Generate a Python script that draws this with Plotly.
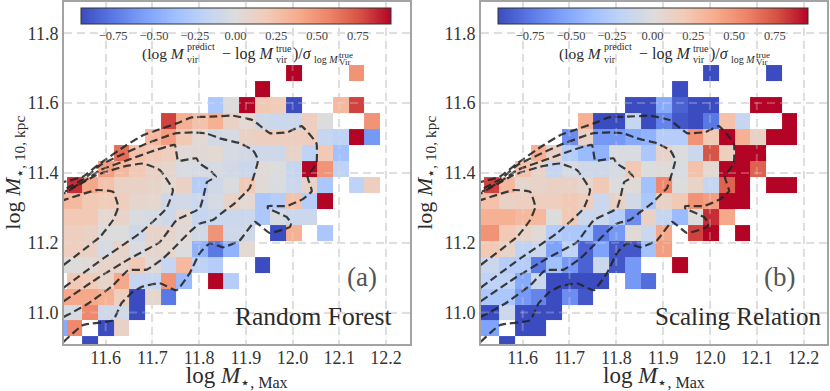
import plotly.graph_objects as go

N = None
x_centers = [11.5, 11.5335, 11.567, 11.6005, 11.634, 11.6675, 11.701, 11.7345, 11.768, 11.8015, 11.835,
             11.8685, 11.902, 11.9355, 11.969, 12.0025, 12.036, 12.0695, 12.103, 12.1365, 12.17]
y_centers = [11.686, 11.640, 11.594, 11.548, 11.502, 11.456, 11.410, 11.364, 11.318, 11.273, 11.227,
             11.181, 11.135, 11.089, 11.045, 11.000, 10.955, 10.909]

rf_rows = [
    [N,N,N,N,N,N,N,N,N,N,N,N,N,N,N,.95,N,N,N,.5],
    [N,N,N,N,N,N,N,N,N,N,N,N,N,.95],
    [N,N,N,N,N,N,N,N,N,N,-.3,0,.95,.2,.18,-.95,N,N,.3,.8],
    [N,N,N,N,N,N,N,.8,.35,.25,.35,.12,.05,-.1,-.12,-.12,.15,0,N,N,.5],
    [N,N,N,N,N,N,.3,.45,.2,.05,-.08,-.05,.12,.15,.15,.15,.15,-.15,-.2,.95,-.6],
    [N,N,N,N,.65,.25,.2,.15,.02,.04,.05,-.05,-.07,-.1,-.1,.1,-.2,.2,-.35],
    [N,N,N,.45,.3,.2,.12,.08,-.03,-.05,-.05,-.08,-.12,.03,0,-.15,.95,.5,-.2],
    [N,.85,.4,.25,.12,.12,.1,.05,.12,-.25,-.1,-.02,.2,.02,-.03,-.12,.1,-.3,N,-.2,.15],
    [.3,.3,.2,.18,.15,.08,.07,-.1,-.08,-.12,-.05,.1,.05,-.3,-.25,.25,-.25,.95],
    [.2,.2,.2,.05,.1,-.03,-.05,-.1,.05,-.15,-.12,-.12,-.12,-.3,-.05,-.12,-.12],
    [.15,.15,.12,0,0,-.1,.1,.08,.03,-.08,.5,-.1,-.1,N,-.95,.35,N,-.3],
    [.15,.15,.12,-.05,.1,-.03,.08,.07,0,-.45,-.75,-.45,.05],
    [0,0,.03,.1,.08,.2,.02,-.15,.3,-.2,-.25,N,N,-.95],
    [N,.2,.18,.1,.4,-.15,-.15,.5,-.4,N,.95,-.25],
    [.4,.4,.4,.35,.15,-.95,.07,-.75],
    [-.05,-.05,.55,-.1,-.08,-.95],
    [-.5,.55,N,-.95,.12],
    [N,N,-.95],
]
sr_rows = [
    [N,N,N,N,N,N,N,N,N,N,N,N,N,N,N,-.95,N,N,N,-.95],
    [N,N,N,N,N,N,N,N,N,N,N,N,N,-.95],
    [N,N,N,N,N,N,N,N,N,N,-.95,-.95,-.5,-.85,-.95,-.95,N,N,.95,.95],
    [N,N,N,N,N,N,N,.35,-.95,-.95,-.15,-.95,-.7,-.9,-.95,-.75,.25,-.15,N,N,.95],
    [N,N,N,N,N,N,-.65,.12,-.6,-.6,-.5,-.45,-.25,-.25,.5,.2,.95,.35,.12,.95,.95],
    [N,N,N,N,.35,.12,-.25,-.4,-.45,-.03,-.03,-.3,.1,0,-.12,.75,.15,.95,.95],
    [N,N,N,.25,.1,-.15,-.05,-.1,-.1,-.05,.2,0,.02,-.03,.25,.05,.95,.95,.7],
    [N,.8,.3,.08,.1,.12,.12,.07,.2,0,.02,-.35,.55,0,.1,-.15,.7,.95,N,.95,.95],
    [.25,.25,.12,.15,.15,.15,.2,.15,-.12,.12,-.08,-.3,.12,.2,.5,.45,.95,.95],
    [.35,.35,.35,.3,.3,0,.2,-.12,-.12,-.25,-.65,.12,-.15,-.4,0,.85,.4],
    [.5,.5,.2,.1,.03,-.25,-.3,-.3,-.75,-.6,.03,-.12,.4,N,.8,.95,N,.95],
    [.2,.2,.1,-.2,-.12,-.55,-.2,-.85,-.55,-.9,-.9,-.35,.45],
    [-.12,-.12,-.25,-.25,-.75,-.35,-.6,-.85,-.12,-.9,-.6,N,N,.95],
    [-.2,-.2,-.2,-.5,-.12,-.95,-.95,-.95,-.95,N,-.6,-.8],
    [-.3,-.3,-.3,-.6,-.7,-.95,-.65,-.9],
    [-.95,-.95,-.12,-.95,-.95,-.95],
    [-.55,-.55,N,-.95,-.95],
    [N,N,-.95],
]

contour_1_x = [11.51,11.551,11.616,11.634,11.658,11.680,11.716,11.752,11.780,11.801,11.823,11.851,11.887,11.919,11.951,11.994,11.997,11.987,11.947,11.947,11.987,12.022,12.041,12.032,12.051,12.051,12.019,11.990,11.951,11.915,11.872,11.823,11.784,11.752,11.680,11.645,11.588,11.551,11.51]
contour_1_y = [10.916,10.964,10.978,11.027,11.059,11.075,11.084,11.064,11.113,11.170,11.199,11.187,11.207,11.260,11.228,11.245,11.256,11.274,11.299,11.305,11.305,11.325,11.348,11.389,11.428,11.485,11.534,11.517,11.514,11.551,11.564,11.561,11.559,11.542,11.508,11.480,11.427,11.389,11.374]
contour_2_x = [11.51,11.563,11.616,11.648,11.688,11.723,11.752,11.780,11.801,11.829,11.851,11.876,11.898,11.908,11.926,11.915,11.887,11.844,11.816,11.787,11.748,11.680,11.588,11.556,11.517,11.51]
contour_2_y = [10.987,11.026,11.078,11.121,11.123,11.155,11.193,11.231,11.255,11.265,11.288,11.313,11.342,11.356,11.437,11.465,11.485,11.499,11.513,11.516,11.513,11.480,11.422,11.385,11.356,11.351]
contour_3_x = [11.51,11.581,11.652,11.716,11.752,11.801,11.809,11.817,11.836,11.823,11.801,11.794,11.755,11.748,11.695,11.652,11.588,11.556,11.513]
contour_3_y = [11.032,11.097,11.155,11.202,11.265,11.298,11.331,11.374,11.389,11.408,11.427,11.442,11.435,11.480,11.460,11.439,11.408,11.378,11.346]
contour_4_x = [11.51,11.595,11.673,11.730,11.744,11.716,11.680,11.638,11.581,11.51]
contour_4_y = [11.071,11.155,11.227,11.298,11.351,11.408,11.427,11.418,11.394,11.341]
contour_5_x = [11.51,11.588,11.616,11.627,11.616,11.581,11.51]
contour_5_y = [11.136,11.217,11.265,11.303,11.346,11.351,11.322]
contours = [(contour_1_x, contour_1_y), (contour_2_x, contour_2_y), (contour_3_x, contour_3_y),
            (contour_4_x, contour_4_y), (contour_5_x, contour_5_y)]

x_ticks = [11.6, 11.7, 11.8, 11.9, 12.0, 12.1, 12.2]
y_ticks = [11.0, 11.2, 11.4, 11.6, 11.8]
cbar_ticks = [-0.75, -0.50, -0.25, 0.0, 0.25, 0.50, 0.75]
cbar_labels = ["−0.75", "−0.50", "−0.25", "0.00", "0.25", "0.50", "0.75"]
coolwarm = [[0.0, "#3b4cc0"], [0.1, "#5977e3"], [0.2, "#7b9ff9"], [0.3, "#9ebeff"], [0.4, "#c0d4f5"],
            [0.5, "#dddcdc"], [0.6, "#f2cbb7"], [0.7, "#f7ac8e"], [0.8, "#ee8468"], [0.9, "#d65244"], [1.0, "#b40426"]]

W, H = 830, 391
SERIF = "Liberation Serif"
TXT = "#2b2b2b"


def pad(rows):
    return [r + [None] * (len(x_centers) - len(r)) for r in rows]


fig = go.Figure()
panels = [("x", "y", rf_rows, 64, 409.5, 0, "Random Forest", "(a)", 394),
          ("x2", "y2", sr_rows, 481, 827, 417, "Scaling Relation", "(b)", 823)]
annotations = []
shapes = []


def label(text, px, py, size, anchor="left", color=TXT):
    annotations.append(dict(text=text, x=px / W, y=1 - py / H, xref="paper", yref="paper", xanchor=anchor,
                            yanchor="middle", showarrow=False, font=dict(family=SERIF, size=size, color=color)))


for xa, ya, rows, left, right, off, name, tag, name_right in panels:
    fig.add_trace(go.Heatmap(
        x=x_centers, y=y_centers, z=pad(rows), xaxis=xa, yaxis=ya, zmin=-0.95, zmax=0.95, colorscale=coolwarm,
        hoverongaps=False,
        colorbar=dict(orientation="h", x=(80.3 + off + 390.7 + off) / 2 / W, xanchor="center", y=1 - 7.5 / H,
                      yanchor="top", lenmode="pixels", len=310.4, thicknessmode="pixels", thickness=16,
                      xpad=0, ypad=0, outlinecolor="#333333", outlinewidth=1, ticks="", ticklabelposition="outside bottom",
                      tickvals=cbar_ticks, ticktext=cbar_labels, bgcolor="rgba(255,255,255,0)",
                      tickfont=dict(family=SERIF, size=12.5, color="#444444"))))
    for cx, cy in contours:
        fig.add_trace(go.Scatter(x=cx, y=cy, xaxis=xa, yaxis=ya, mode="lines", showlegend=False, hoverinfo="skip",
                                 line=dict(color="rgba(35,35,35,0.88)", width=2.2, dash="8px,4px", shape="spline",
                                           smoothing=0.35)))
    for t in x_ticks:
        shapes.append(dict(type="line", xref=xa, yref=ya, x0=t, x1=t, y0=10.91, y1=11.891, layer="above",
                           line=dict(color="rgba(225,225,225,0.28)", width=2, dash="8px,5px")))
    for t in y_ticks:
        shapes.append(dict(type="line", xref=xa, yref=ya, x0=11.511, x1=12.25, y0=t, y1=t, layer="above",
                           line=dict(color="rgba(225,225,225,0.28)", width=2, dash="8px,5px")))
    label(name, name_right, 316, 25.5 if off == 0 else 25, "right")
    label(tag, (left + right) / 2 + 125, 277, 27, "center", "#555555")
    label("(log <i>M</i>", 140 + off, 54, 15.5)
    label("predict", 185 + off, 46.5, 10)
    label("vir", 185 + off, 59, 10)
    label("− log <i>M</i>", 220 + off, 54, 16)
    label("true", 274 + off, 48, 10)
    label("vir", 274 + off, 59, 10)
    label(")/<i>σ</i>", 291 + off, 54, 16)
    label("log <i>M</i>", 312 + off, 59, 10)
    label("true", 337 + off, 54.5, 9)
    label("Vir", 337 + off, 62, 9)

axis_common = dict(showgrid=True, gridcolor="#dedede", griddash="8px,5px", gridwidth=2, zeroline=False, ticks="",
                   showline=True, mirror=True, linecolor="#a3a3a3", linewidth=2,
                   tickfont=dict(family=SERIF, size=18, color="#333333"))
x_title = "log <i>M</i><sub>⋆, Max</sub>"
y_title = "log <i>M</i><sub>⋆, 10, kpc</sub>"
layout = dict(
    width=W, height=H, margin=dict(l=0, r=0, t=0, b=0, autoexpand=False), paper_bgcolor="white", plot_bgcolor="white",
    showlegend=False, annotations=annotations, shapes=shapes,
)
for suf, dom in [("", (64, 409.5)), ("2", (481, 827))]:
    layout["xaxis" + suf] = dict(axis_common, domain=[dom[0] / W, dom[1] / W], range=[11.511, 12.25], anchor="y" + suf,
                                 tickvals=x_ticks, ticktext=[f"{t:.1f}" for t in x_ticks], ticklabelstandoff=-4,
                                 title=dict(text=x_title, font=dict(family=SERIF, size=23, color=TXT), standoff=5))
    layout["yaxis" + suf] = dict(axis_common, domain=[1 - 344 / H, 1 - 1.5 / H], range=[10.91, 11.891], anchor="x" + suf,
                                 tickvals=y_ticks, ticktext=[f"{t:.1f}" for t in y_ticks],
                                 title=dict(text=y_title, font=dict(family=SERIF, size=22, color=TXT), standoff=6))
fig.update_layout(**layout)
fig.write_html("out.html", config=dict(displayModeBar=False),
               post_script="document.body.style.margin='0';document.body.style.overflow='hidden';")
